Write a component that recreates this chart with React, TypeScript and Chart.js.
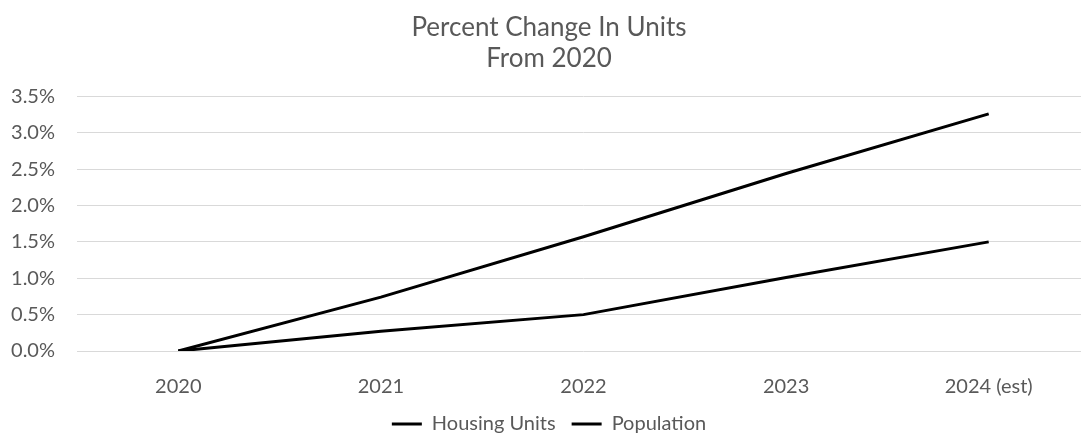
import React, { useEffect, useRef } from "react";
import { Chart, registerables } from "chart.js";

Chart.register(...registerables);

const categories = ["2020", "2021", "2022", "2023", "2024 (est)"];
const housingUnits = [0, 0.74, 1.57, 2.44, 3.26];
const population = [0, 0.27, 0.5, 1.01, 1.5];
const titleLines = ["Percent Change In Units", "From 2020"];

const FONT = "Lato, 'Open Sans', sans-serif";
const GRAY = "#595959";

export default function App() {
  const ref = useRef<HTMLCanvasElement | null>(null);

  useEffect(() => {
    document.body.style.margin = "0";
    document.body.style.overflow = "hidden";
    const ctx = ref.current!;
    const chart = new Chart(ctx, {
      type: "line",
      data: {
        labels: categories,
        datasets: [
          {
            label: "Housing Units",
            data: housingUnits,
            borderColor: "#000000",
            backgroundColor: "#000000",
            borderWidth: 3,
            pointRadius: 0,
            tension: 0,
          },
          {
            label: "Population",
            data: population,
            borderColor: "#000000",
            backgroundColor: "#000000",
            borderWidth: 3,
            pointRadius: 0,
            tension: 0,
          },
        ],
      },
      options: {
        responsive: false,
        animation: false,
        layout: { padding: { left: 8, right: 10, top: 12, bottom: -7 } },
        plugins: {
          title: {
            display: true,
            text: titleLines,
            color: GRAY,
            font: { family: FONT, size: 26, weight: "normal" },
            padding: { top: 0, bottom: 22 },
            lineHeight: 1.08,
          },
          legend: {
            position: "bottom",
            labels: {
              usePointStyle: true,
              pointStyle: "line",
              pointStyleWidth: 30,
              color: GRAY,
              font: { family: FONT, size: 20 },
              padding: 16,
            },
          },
          tooltip: { enabled: false },
        },
        scales: {
          x: {
            offset: true,
            grid: { display: false },
            border: { display: false },
            afterFit: (s: any) => {
              s.height = 47;
            },
            ticks: {
              color: GRAY,
              font: { family: FONT, size: 20 },
              padding: 16,
              maxRotation: 0,
            },
          },
          y: {
            min: 0,
            max: 3.5,
            border: { display: false },
            grid: { color: "#d9d9d9", lineWidth: 1, drawTicks: false },
            afterFit: (s: any) => {
              s.width = 69;
            },
            ticks: {
              stepSize: 0.5,
              color: GRAY,
              font: { family: FONT, size: 20 },
              padding: 22,
              callback: (v: any) => Number(v).toFixed(1) + "%",
            },
          },
        },
      },
    });
    return () => chart.destroy();
  }, []);

  return (
    <div style={{ width: 1100, height: 437 }}>
      <canvas ref={ref} width={1100} height={437} />
    </div>
  );
}
